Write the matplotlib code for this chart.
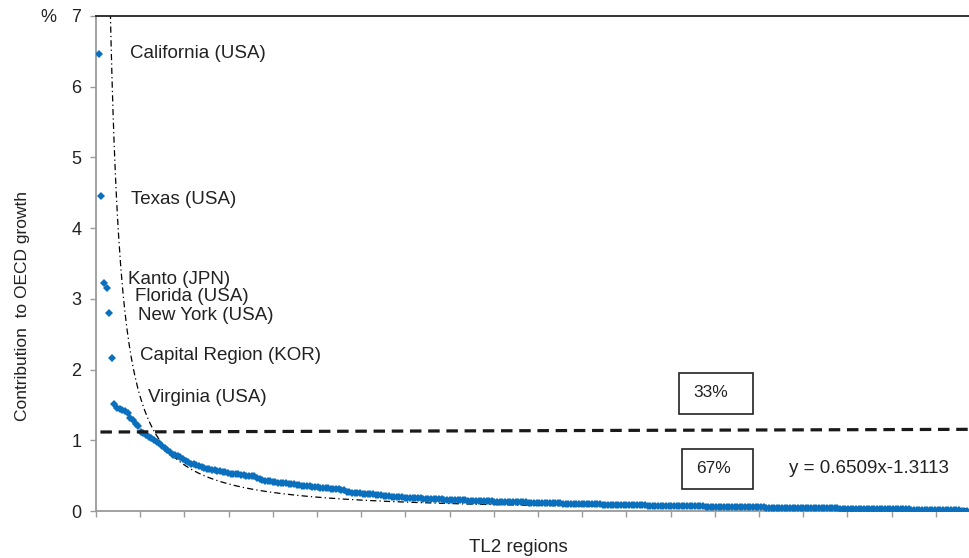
import numpy as np
import matplotlib
matplotlib.use("Agg")
import matplotlib.pyplot as plt
from matplotlib.patches import Rectangle

plt.rcParams["font.family"] = ["Liberation Sans", "DejaVu Sans"]

# Contribution of each TL2 region to OECD growth (%), sorted from largest
contribution = [
    6.46, 4.45, 3.22, 3.15, 2.80, 2.17, 1.52, 1.46, 1.44, 1.43,
    1.41, 1.38, 1.31, 1.28, 1.23, 1.20, 1.12, 1.11, 1.08, 1.05,
    1.03, 1.00, 0.98, 0.96, 0.92, 0.89, 0.86, 0.83, 0.79, 0.79,
    0.78, 0.76, 0.73, 0.71, 0.69, 0.67, 0.66, 0.65, 0.64, 0.62,
    0.61, 0.60, 0.59, 0.58, 0.58, 0.57, 0.56, 0.55, 0.55, 0.54,
    0.53, 0.53, 0.52, 0.52, 0.51, 0.51, 0.50, 0.50, 0.49, 0.49,
    0.47, 0.45, 0.44, 0.43, 0.43, 0.42, 0.41, 0.41, 0.40, 0.40,
    0.39, 0.39, 0.38, 0.38, 0.375, 0.37, 0.37, 0.36, 0.36, 0.355,
    0.35, 0.345, 0.34, 0.335, 0.33, 0.325, 0.32, 0.32, 0.315, 0.31,
    0.31, 0.305, 0.30, 0.29, 0.275, 0.265, 0.26, 0.255, 0.25, 0.25,
    0.245, 0.24, 0.24, 0.235, 0.235, 0.23, 0.225, 0.22, 0.215, 0.21,
    0.21, 0.205, 0.20, 0.20, 0.195, 0.193, 0.19, 0.188, 0.186, 0.184,
    0.182, 0.18, 0.178, 0.176, 0.174, 0.172, 0.17, 0.168, 0.166, 0.165,
    0.163, 0.162, 0.16, 0.159, 0.157, 0.156, 0.154, 0.153, 0.151, 0.15,
    0.148, 0.147, 0.145, 0.144, 0.142, 0.141, 0.139, 0.138, 0.136, 0.135,
    0.134, 0.133, 0.131, 0.13, 0.129, 0.128, 0.127, 0.126, 0.125, 0.124,
    0.123, 0.122, 0.121, 0.12, 0.119, 0.118, 0.117, 0.116, 0.115, 0.114,
    0.113, 0.112, 0.111, 0.11, 0.108, 0.107, 0.106, 0.105, 0.104, 0.103,
    0.102, 0.101, 0.1, 0.099, 0.098, 0.097, 0.096, 0.095, 0.094, 0.093,
    0.092, 0.091, 0.09, 0.089, 0.088, 0.088, 0.087, 0.086, 0.085, 0.084,
    0.083, 0.083, 0.082, 0.081, 0.08, 0.079, 0.079, 0.078, 0.077, 0.076,
    0.076, 0.075, 0.074, 0.073, 0.073, 0.072, 0.071, 0.071, 0.07, 0.07,
    0.069, 0.069, 0.068, 0.067, 0.067, 0.066, 0.066, 0.065, 0.064, 0.064,
    0.063, 0.063, 0.062, 0.061, 0.061, 0.06, 0.06, 0.059, 0.058, 0.058,
    0.057, 0.057, 0.056, 0.055, 0.055, 0.054, 0.054, 0.053, 0.052, 0.052,
    0.051, 0.05, 0.05, 0.049, 0.049, 0.048, 0.048, 0.047, 0.047, 0.046,
    0.046, 0.045, 0.045, 0.044, 0.044, 0.043, 0.043, 0.042, 0.042, 0.041,
    0.041, 0.04, 0.04, 0.039, 0.039, 0.038, 0.038, 0.037, 0.037, 0.036,
    0.036, 0.035, 0.035, 0.034, 0.034, 0.033, 0.033, 0.032, 0.032, 0.031,
    0.031, 0.03, 0.03, 0.029, 0.029, 0.028, 0.028, 0.027, 0.027, 0.026,
    0.026, 0.025, 0.025, 0.024, 0.024, 0.023, 0.023, 0.022, 0.021, 0.021,
    0.02, 0.02, 0.019, 0.018, 0.018, 0.017, 0.016, 0.016, 0.015, 0.014,
    0.013, 0.013, 0.012, 0.011, 0.01, 0.009, 0.008, 0.007, 0.006, 0.005,
]

# Labelled regions (rank in the sorted list)
labelled_regions = ["California (USA)", "Texas (USA)", "Kanto (JPN)", "Florida (USA)",
                    "New York (USA)", "Capital Region (KOR)", "Virginia (USA)"]
label_xy = [(0.384, 6.476), (0.396, 4.40), (0.362, 3.267), (0.441, 3.027),
            (0.475, 2.758), (0.503, 2.192), (0.588, 1.598)]

# Power-law trend line: y = a * x^b
trend_a = 0.6509
trend_b = -1.3113
trend_label = "y = 0.6509x-1.3113"

# Threshold separating the top third of total contribution
threshold_y = [1.117, 1.155]
share_labels = ["33%", "67%"]

y_ticks = [0, 1, 2, 3, 4, 5, 6, 7]

# ---------------------------------------------------------------------------
rank_step = 1 / 33.5          # horizontal spacing of ranked regions
x_max = 9.887

fig = plt.figure(figsize=(9.70, 5.58), dpi=100)
ax = fig.add_axes([96 / 970, 47 / 558, 1 - 96 / 970, 495 / 558])

x = (np.arange(len(contribution)) + 1) * rank_step
ax.plot(x, contribution, linestyle="none", marker="D", markersize=4.0,
        markeredgewidth=0, color="#0a70bd", zorder=3)

# trend line
xt = np.linspace(0.12, x_max, 800)
ax.plot(xt, trend_a * xt ** trend_b, color="black", lw=0.9,
        linestyle=(0, (5, 2.5, 1, 2.5)), zorder=2)

# threshold line
ax.plot([0.05, x_max], threshold_y, color="#1a1a1a", lw=2.3,
        linestyle=(0, (3.6, 2.1)), zorder=4)

for name, (tx, ty) in zip(labelled_regions, label_xy):
    ax.text(tx, ty, name, fontsize=13.5, ha="left", va="center", color="#222222")

# share boxes
box_specs = [(6.599, 1.372, 0.836, 0.580, 6.757, 1.669),
             (6.629, 0.307, 0.806, 0.570, 6.788, 0.594)]
for lab, (bx, by, bw, bh, tx, ty) in zip(share_labels, box_specs):
    ax.add_patch(Rectangle((bx, by), bw, bh, fill=False, edgecolor="#222222",
                           lw=1.2, zorder=5))
    ax.text(tx, ty, lab, fontsize=12.5, ha="left", va="center", color="#222222")

ax.text(7.842, 0.594, trend_label, fontsize=13.5, ha="left", va="center",
        color="#222222")

ax.set_xlim(0, x_max)
ax.set_ylim(0, 7)
ax.set_yticks(y_ticks)
ax.set_xticks(np.arange(0, x_max, 0.5))
ax.set_xticklabels([])
ax.tick_params(axis="y", direction="out", length=4.5, width=1, color="#9a9a9a",
               labelsize=13, pad=6, labelcolor="#222222")
ax.tick_params(axis="x", direction="out", length=4, width=1, color="#9a9a9a")

for side in ("left", "bottom"):
    ax.spines[side].set_color("#9a9a9a")
    ax.spines[side].set_linewidth(1.3)
ax.spines["top"].set_color("#222222")
ax.spines["top"].set_linewidth(1.3)
ax.spines["right"].set_visible(False)

ax.set_ylabel("Contribution  to OECD growth", fontsize=12.5, color="#222222")
ax.yaxis.set_label_coords(-0.076, 0.414)
fig.text(518 / 970, 1 - 547 / 558, "TL2 regions", fontsize=13.5, ha="center",
         va="center", color="#222222")
fig.text(48 / 970, 1 - 18 / 558, "%", fontsize=13, ha="center", va="center",
         color="#222222")

fig.savefig("out.png", dpi=100)
